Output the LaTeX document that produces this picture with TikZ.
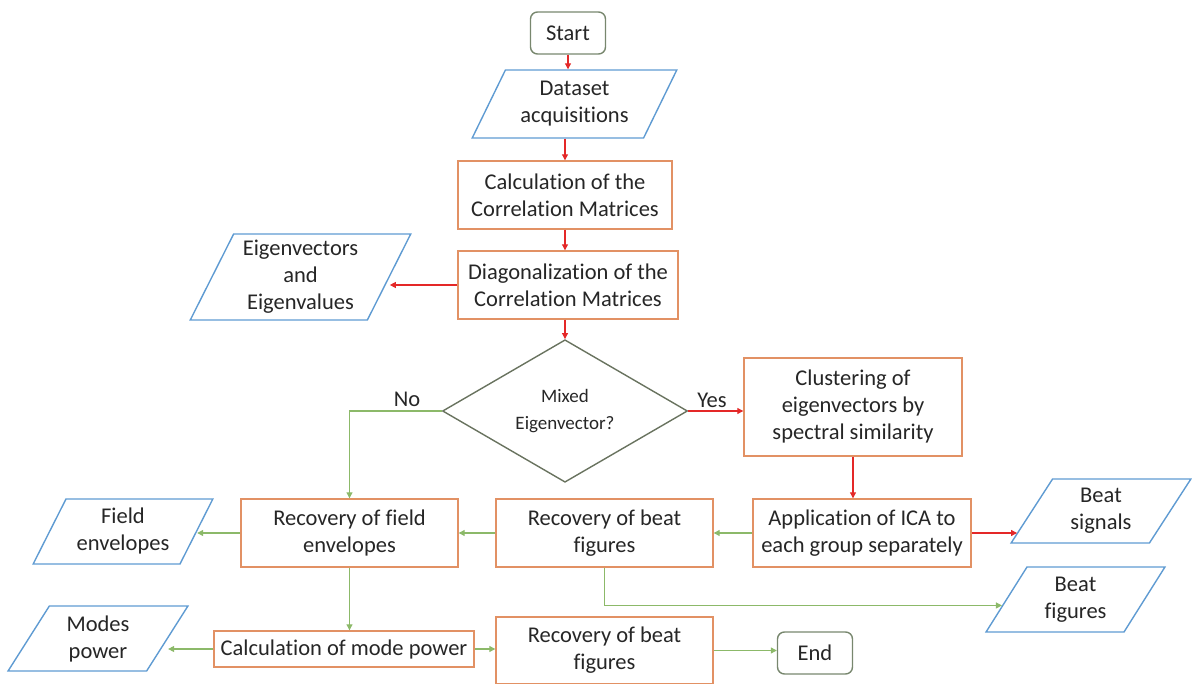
\documentclass[tikz,border=0pt]{standalone}
\usepackage{fontspec}
\setmainfont{Carlito}[Ligatures={NoCommon,NoRequired,NoContextual}]
\usetikzlibrary{shapes.geometric,arrows.meta,calc}

\definecolor{boxorange}{RGB}{226,145,100}
\definecolor{ioblue}{RGB}{95,155,210}
\definecolor{flowred}{RGB}{228,40,40}
\definecolor{flowgreen}{RGB}{140,185,105}
\definecolor{termgray}{RGB}{120,135,110}
\definecolor{decgray}{RGB}{105,115,95}
\definecolor{inkgray}{RGB}{38,38,38}

\tikzset{
  every node/.style={text=inkgray, font=\fontsize{22.5}{27}\selectfont, align=center},
  procbox/.style={draw=boxorange, line width=1.4pt, rectangle, inner sep=0pt},
  iobox/.style={draw=ioblue, line width=1.4pt, trapezium, trapezium stretches=true,
    trapezium left angle=60, trapezium right angle=120, inner sep=0pt},
  termbox/.style={draw=termgray, line width=1.4pt, rounded corners=7pt,
    minimum width=75pt, minimum height=42pt, inner sep=0pt},
  decbox/.style={draw=decgray, line width=1.4pt, diamond, inner sep=0pt,
    font=\fontsize{19}{27}\selectfont},
  redflow/.style={draw=flowred, line width=1.1pt, -{Triangle[length=6pt,width=6pt]}},
  greenflow/.style={draw=flowgreen, line width=1.1pt, -{Triangle[length=6pt,width=6pt]}},
}

\begin{document}
\begin{tikzpicture}[x=1pt,y=-1pt]
\useasboundingbox (0,0) rectangle (1192,684);

% main column
\node[termbox] (start) at (568,33) {Start};
\node[iobox, minimum width=205pt, minimum height=68pt] (data) at (574.5,104) {Dataset\\acquisitions};
\node[procbox, minimum width=214pt, minimum height=68pt] (calc) at (565,195) {Calculation of the\\Correlation Matrices};
\node[procbox, minimum width=220pt, minimum height=68pt] (diag) at (568,285) {Diagonalization of the\\Correlation Matrices};
\node[iobox, trapezium left angle=63, trapezium right angle=117,
      minimum width=221pt, minimum height=86pt] (eig) at (300.5,277) {Eigenvectors\\and\\Eigenvalues};
\node[decbox, minimum width=245pt, minimum height=132pt] (dec) at (565,411) {Mixed\\Eigenvector?};
\node (no) at (407,399) {No};
\node (yes) at (712,400) {Yes};

% right branch
\node[procbox, minimum width=218pt, minimum height=98pt] (clus) at (853,407) {Clustering of\\eigenvectors by\\spectral similarity};
\node[procbox, minimum width=218pt, minimum height=68pt] (ica) at (862,533) {Application of ICA to\\each group separately};
\node[iobox, minimum width=180pt, minimum height=64pt] (beats) at (1101,511) {Beat\\signals};
\node[iobox, minimum width=179pt, minimum height=65pt] (beatf) at (1075.5,599.5) {Beat\\figures};

% middle row
\node[procbox, minimum width=217pt, minimum height=68pt] (rbf1) at (604.5,533) {Recovery of beat\\figures};
\node[procbox, minimum width=217pt, minimum height=68pt] (rfe) at (349.5,533) {Recovery of field\\envelopes};
\node[iobox, minimum width=180pt, minimum height=65pt] (fenv) at (123,531.5) {Field\\envelopes};

% bottom row
\node[procbox, minimum width=260pt, minimum height=36pt] (cmp) at (344,649) {Calculation of mode power};
\node[iobox, minimum width=180pt, minimum height=65pt] (modes) at (98,638.5) {Modes\\power};
\node[procbox, minimum width=217pt, minimum height=67pt] (rbf2) at (604.5,650.5) {Recovery of beat\\figures};
\node[termbox] (endn) at (815,653) {End};

% entry points on slanted sides
\coordinate (bsin) at ($(beats.bottom left corner)!0.17!(beats.top left corner)$);
\coordinate (bfin) at ($(beatf.bottom left corner)!0.41!(beatf.top left corner)$);

% red connectors
\draw[redflow] (start.south) -- (start.south |- data.north);
\draw[redflow] (data.south -| calc.north) -- (calc.north);
\draw[redflow] (calc.south) -- (calc.south |- diag.north);
\draw[redflow] (diag.west) -- (diag.west -| eig.east);
\draw[redflow] (dec.north |- diag.south) -- (dec.north);
\draw[redflow] (dec.east) -- (dec.east -| clus.west);
\draw[redflow] (clus.south) -- (clus.south |- ica.north);
\draw[redflow] (ica.east) -- (ica.east -| bsin);

% green connectors
\draw[greenflow] (dec.west) -| (rfe.north);
\draw[greenflow] (ica.west) -- (rbf1.east);
\draw[greenflow] (rbf1.west) -- (rfe.east);
\draw[greenflow] (rfe.west) -- (rfe.west -| fenv.east);
\draw[greenflow] (rbf1.south) |- (bfin);
\draw[greenflow] (rfe.south) -- (rfe.south |- cmp.north);
\draw[greenflow] (cmp.west) -- (cmp.west -| modes.east);
\draw[greenflow] (cmp.east) -- (cmp.east -| rbf2.west);
\draw[greenflow] (rbf2.east) -- (rbf2.east -| endn.west);
\end{tikzpicture}
\end{document}
